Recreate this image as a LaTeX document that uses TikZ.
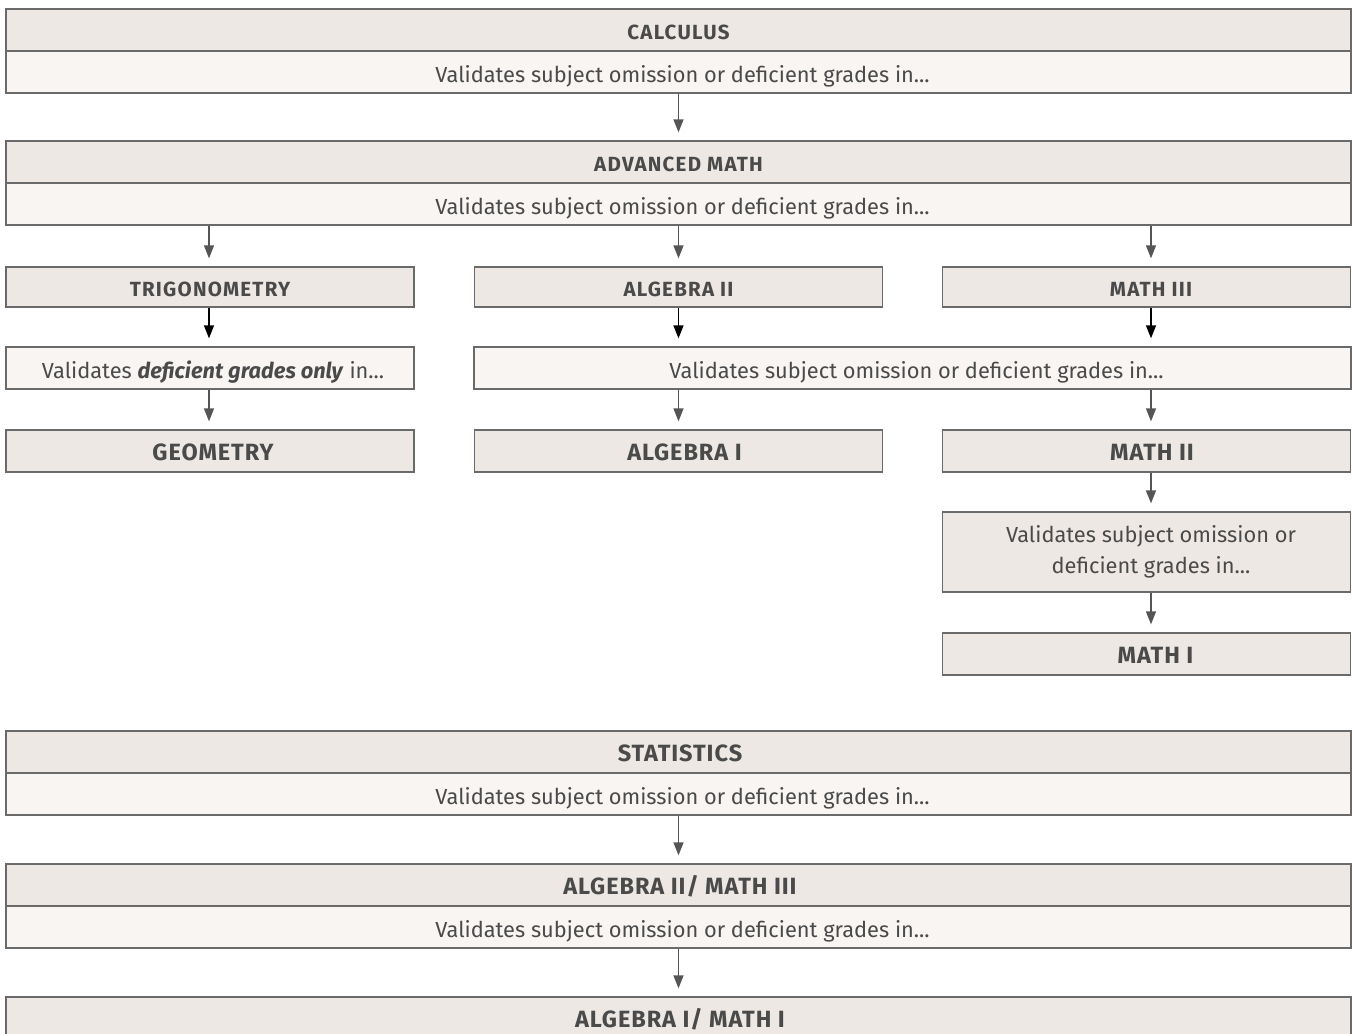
\documentclass[tikz,border=0pt]{standalone}
\usepackage{fontspec}
\setmainfont{Fira Sans}
\newfontfamily\hdrfont[LetterSpace=6]{Fira Sans}
\newfontfamily\bighdrfont[LetterSpace=4]{Fira Sans}
\usetikzlibrary{arrows.meta}
\definecolor{hdrfill}{HTML}{EDE8E3}
\definecolor{bodyfill}{HTML}{F8F5F3}
\definecolor{edgecol}{HTML}{6A6A6A}
\definecolor{txtcol}{HTML}{4A4A4A}
\definecolor{arrcol}{HTML}{555555}
\tikzset{
  box/.style={draw=edgecol, line width=1.3bp, inner sep=0pt, text=txtcol, anchor=center},
  hdr/.style={box, fill=hdrfill, minimum height=42bp, text height=19.5bp, text depth=0bp, font=\hdrfont\fontsize{20.5bp}{24bp}\selectfont\bfseries},
  bighdr/.style={box, fill=hdrfill, minimum height=42bp, text height=18.5bp, text depth=0bp, font=\bighdrfont\fontsize{23.5bp}{28bp}\selectfont\bfseries},
  body/.style={box, fill=bodyfill, minimum height=42bp, text height=20bp, text depth=0bp, font=\fontsize{21.8bp}{26bp}\selectfont},
  full/.style={minimum width=1345bp},
  col/.style={minimum width=408bp},
  arr/.style={draw=arrcol, line width=1.3bp, -{Triangle[length=13bp,width=10bp]}, shorten >=8bp},
  darr/.style={arr, draw=black}
}
\begin{document}
\begin{tikzpicture}[x=1bp,y=-1bp]
\clip (0,0) rectangle (1352,1033);
\fill[white] (0,0) rectangle (1352,1033);
% Calculus
\node[hdr,full] (calc) at (678.5,30) {CALCULUS};
\node[body,full] (calcb) at (678.5,72) {\hspace{8bp}Validates subject omission or deficient grades in...};
% Advanced math
\node[hdr,full] (adv) at (678.5,162) {ADVANCED MATH};
\node[body,full] (advb) at (678.5,204) {\hspace{8bp}Validates subject omission or deficient grades in...};
% Row 1
\node[hdr,col,minimum height=40bp] (trig) at (210,287) {TRIGONOMETRY};
\node[hdr,col,minimum height=40bp] (alg2) at (678.5,287) {ALGEBRA II};
\node[hdr,col,minimum height=40bp] (m3) at (1146.5,287) {\hspace{9bp}MATH III};
% Row 2
\node[body,col] (trigv) at (210,368) {\hspace{6bp}Validates \textbf{\textit{deficient grades only}} in...};
\node[body,minimum width=877bp] (widev) at (912.5,368) {\hspace{8bp}Validates subject omission or deficient grades in...};
% Row 3
\node[bighdr,col] (geo) at (210,451) {\hspace{6bp}GEOMETRY};
\node[bighdr,col] (alg1) at (678.5,451) {\hspace{12bp}ALGEBRA I};
\node[bighdr,col] (m2) at (1146.5,451) {\hspace{11bp}MATH II};
% Math II chain
\node[box,fill=hdrfill,col,minimum height=80bp,align=center,font=\fontsize{21.8bp}{31bp}\selectfont] (m2v) at (1146.5,552) {\hspace{9bp}Validates subject omission or\\\hspace{9bp}deficient grades in...};
\node[bighdr,col] (m1) at (1146.5,654) {\hspace{18bp}MATH I};
% Statistics
\node[bighdr,full] (stat) at (678.5,752) {\hspace{3bp}STATISTICS};
\node[body,full] (statb) at (678.5,794) {\hspace{8bp}Validates subject omission or deficient grades in...};
\node[bighdr,full] (a2m3) at (678.5,885) {\hspace{3bp}ALGEBRA II/ MATH III};
\node[body,full] (a2m3b) at (678.5,927) {\hspace{8bp}Validates subject omission or deficient grades in...};
\node[bighdr,full] (a1m1) at (678.5,1018) {\hspace{3bp}ALGEBRA I/ MATH I};
% Arrows
\draw[arr] (calcb.south) -- (adv.north);
\draw[arr] ([xshift=-1bp]advb.south -| trig.north) -- ([xshift=-1bp]trig.north);
\draw[arr] (advb.south -| alg2.north) -- (alg2.north);
\draw[arr] ([xshift=4.5bp]m3.north |- advb.south) -- ([xshift=4.5bp]m3.north);
\draw[darr] ([xshift=-1bp]trig.south) -- ([xshift=-1bp]trigv.north);
\draw[darr] (alg2.south) -- (widev.north -| alg2.south);
\draw[darr] ([xshift=4.5bp]m3.south) -- ([xshift=4.5bp]m3.south |- widev.north);
\draw[arr] ([xshift=-1bp]trigv.south) -- ([xshift=-1bp]geo.north);
\draw[arr] (widev.south -| alg1.north) -- (alg1.north);
\draw[arr] ([xshift=4.5bp]m2.north |- widev.south) -- ([xshift=4.5bp]m2.north);
\draw[arr] ([xshift=4.5bp]m2.south) -- ([xshift=4.5bp]m2v.north);
\draw[arr] ([xshift=4.5bp]m2v.south) -- ([xshift=4.5bp]m1.north);
\draw[arr] (statb.south) -- (a2m3.north);
\draw[arr] (a2m3b.south) -- (a1m1.north);
\end{tikzpicture}
\end{document}
